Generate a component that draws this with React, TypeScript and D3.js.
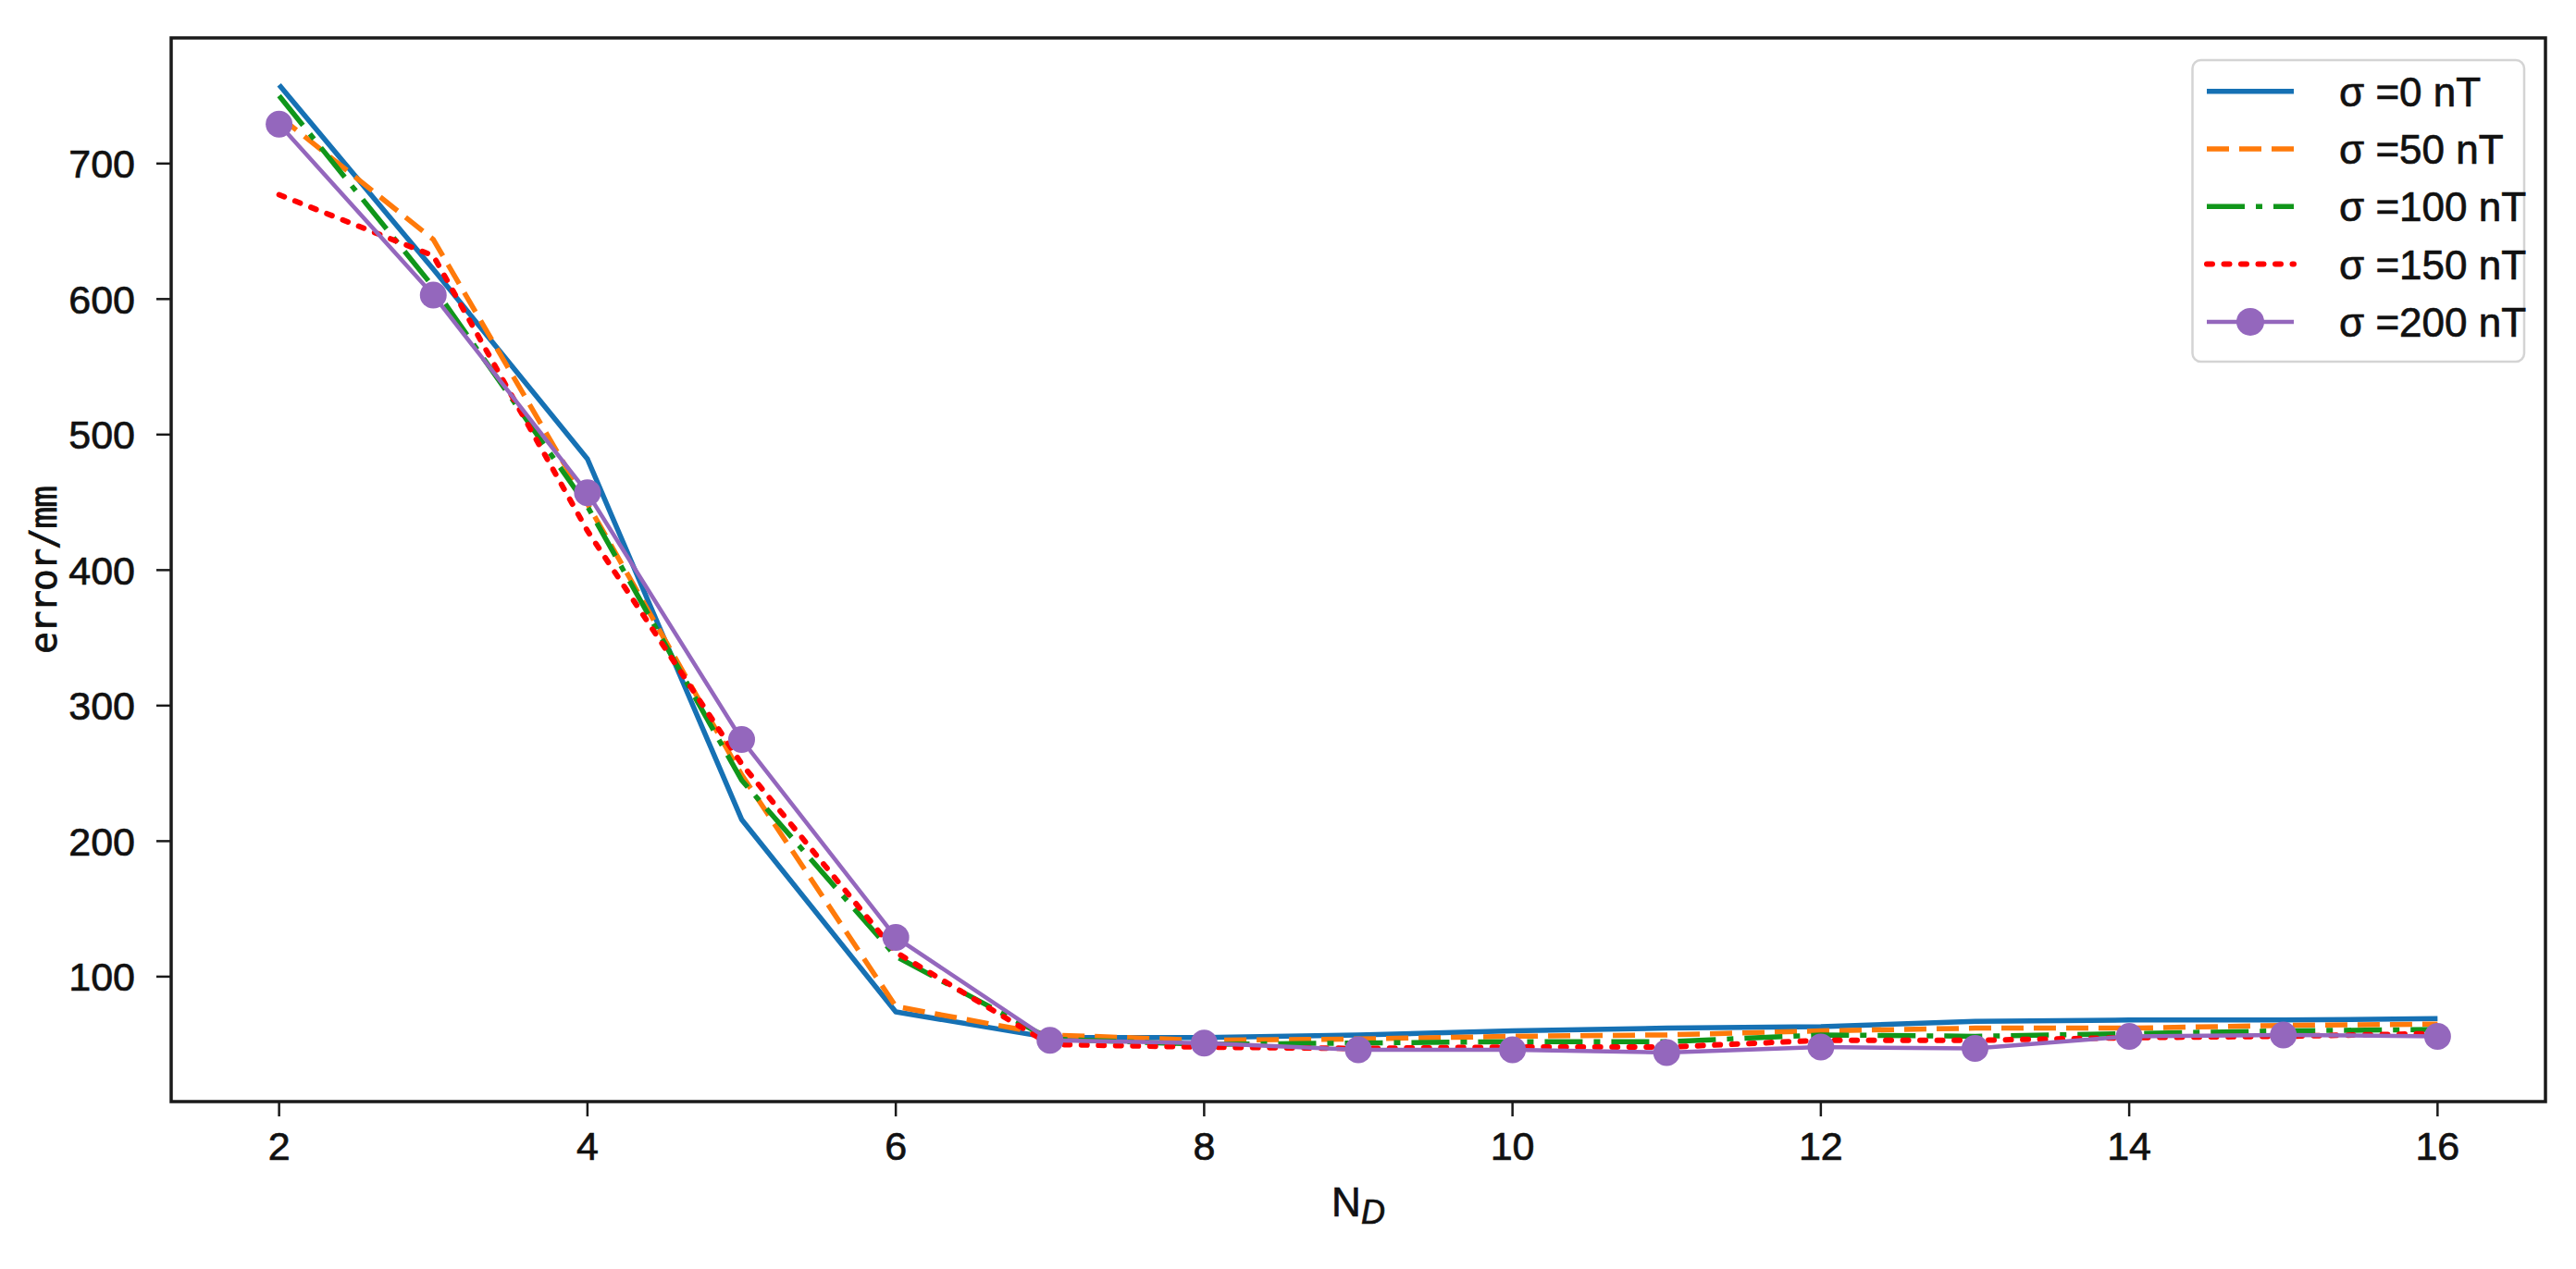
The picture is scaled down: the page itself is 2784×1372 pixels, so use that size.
import * as d3 from "d3";

// N_D values on the x axis
const nd = [2, 3, 4, 5, 6, 7, 8, 9, 10, 11, 12, 13, 14, 15, 16];

// error / mm for each noise level
const sigma0 = [758, 622, 482, 216, 74, 55, 55, 57, 60, 62, 63, 67, 68, 68, 69];
const sigma50 = [735, 644, 449, 249, 78, 57, 53, 54, 56, 57, 60, 62, 62, 64, 65];
const sigma100 = [750, 609, 447, 245, 115, 54, 50, 51, 52, 52, 57, 56, 58, 60, 61];
const sigma150 = [677, 632, 429, 257, 118, 50, 48, 47, 48, 48, 53, 53, 55, 56, 58];
const sigma200 = [729, 603, 457, 275, 129, 53, 51, 46, 46, 44, 48, 47, 56, 57, 56];

const seriesLabels = ["σ =0 nT", "σ =50 nT", "σ =100 nT", "σ =150 nT", "σ =200 nT"];
const xTicks = [2, 4, 6, 8, 10, 12, 14, 16];
const yTicks = [100, 200, 300, 400, 500, 600, 700];

const styles = [
  { color: "#1671b4", width: 5.5, dash: null, marker: false },
  { color: "#ff7a0a", width: 5.5, dash: "24 11", marker: false },
  { color: "#10961a", width: 5.5, dash: "41 12 7 12", marker: false },
  { color: "#ff0000", width: 6, dash: "6 12.5", marker: false },
  { color: "#9467bd", width: 4.5, dash: null, marker: true },
];

const narrow = "'Liberation Sans Narrow', 'Liberation Sans', Arial, sans-serif";

export default function App() {
  const width = 2784;
  const height = 1372;
  const margin = { top: 41, right: 33, bottom: 181, left: 185 };

  const x = d3.scaleLinear().domain([1.3, 16.7]).range([margin.left, width - margin.right]);
  const y = d3.scaleLinear().domain([7.8, 792.7]).range([height - margin.bottom, margin.top]);

  const series = [sigma0, sigma50, sigma100, sigma150, sigma200];
  const line = d3
    .line<number>()
    .x((_, i) => x(nd[i]))
    .y((d) => y(d));

  const plotBottom = height - margin.bottom;
  const plotRight = width - margin.right;

  const legend = { x: 2369.5, y: 65, w: 358.5, h: 326, row0: 98.7, step: 62.3 };
  const textStyle = { stroke: "#111", strokeWidth: 0.7 };

  return (
    <svg
      width={width}
      height={height}
      style={{ position: "absolute", left: 0, top: 0, background: "#fff" }}
    >
      <rect x={0} y={0} width={width} height={height} fill="#fff" />

      {/* data lines */}
      {series.map((s, k) => (
        <path
          key={k}
          d={line(s) ?? ""}
          fill="none"
          stroke={styles[k].color}
          strokeWidth={styles[k].width}
          strokeDasharray={styles[k].dash ?? undefined}
          strokeLinecap={k === 3 ? "round" : "butt"}
          strokeLinejoin="round"
        />
      ))}
      {sigma200.map((d, i) => (
        <circle key={i} cx={x(nd[i])} cy={y(d)} r={14.5} fill="#9467bd" />
      ))}

      {/* axes frame */}
      <rect
        x={margin.left}
        y={margin.top}
        width={plotRight - margin.left}
        height={plotBottom - margin.top}
        fill="none"
        stroke="#1a1a1a"
        strokeWidth={3.5}
      />

      {/* x ticks */}
      {xTicks.map((t) => (
        <g key={t}>
          <line x1={x(t)} x2={x(t)} y1={plotBottom} y2={plotBottom + 16} stroke="#1a1a1a" strokeWidth={2.5} />
          <text
            x={x(t)}
            y={1254}
            textAnchor="middle"
            fontFamily={narrow}
            fontSize={43}
            fill="#111"
            {...textStyle}
          >
            {t}
          </text>
        </g>
      ))}

      {/* y ticks */}
      {yTicks.map((t) => (
        <g key={t}>
          <line x1={margin.left - 16} x2={margin.left} y1={y(t)} y2={y(t)} stroke="#1a1a1a" strokeWidth={2.5} />
          <text
            x={146}
            y={y(t) + 15.5}
            textAnchor="end"
            fontFamily={narrow}
            fontSize={43}
            fill="#111"
            {...textStyle}
          >
            {t}
          </text>
        </g>
      ))}

      {/* axis titles */}
      <text
        transform={`translate(61, ${(margin.top + plotBottom) / 2}) rotate(-90)`}
        textAnchor="middle"
        fontFamily="'DejaVu Sans Mono', 'Liberation Mono', monospace"
        fontSize={40}
        textLength={182}
        lengthAdjust="spacing"
        fill="#111"
        {...textStyle}
      >
        error/mm
      </text>
      <text
        x={(margin.left + plotRight) / 2}
        y={1315}
        textAnchor="middle"
        fontFamily={narrow}
        fontSize={44}
        fill="#111"
        {...textStyle}
      >
        N
        <tspan fontSize={36} fontStyle="italic" dy={8}>
          D
        </tspan>
      </text>

      {/* legend */}
      <rect
        x={legend.x}
        y={legend.y}
        width={legend.w}
        height={legend.h}
        rx={9}
        fill="#fff"
        fillOpacity={0.8}
        stroke="#d4d4d4"
        strokeWidth={2.5}
      />
      {seriesLabels.map((label, k) => {
        const cy = legend.row0 + k * legend.step;
        return (
          <g key={label}>
            <line
              x1={2385}
              x2={2479}
              y1={cy}
              y2={cy}
              stroke={styles[k].color}
              strokeWidth={styles[k].width}
              strokeDasharray={styles[k].dash ?? undefined}
              strokeLinecap={k === 3 ? "round" : "butt"}
            />
            {styles[k].marker && <circle cx={2432} cy={cy} r={15} fill={styles[k].color} />}
            <text x={2528} y={cy + 16} fontFamily={narrow} fontSize={44} fill="#111" {...textStyle}>
              {label}
            </text>
          </g>
        );
      })}
    </svg>
  );
}
